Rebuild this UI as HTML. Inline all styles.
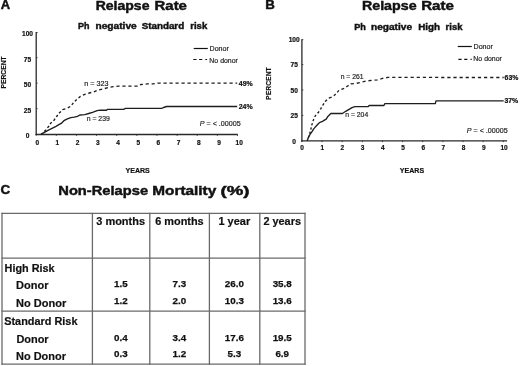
<!DOCTYPE html>
<html><head><meta charset="utf-8"><style>
html,body{margin:0;padding:0;background:#fff;width:520px;height:366px;overflow:hidden}
svg{display:block;will-change:transform}
text{font-family:"Liberation Sans", sans-serif}
</style></head><body>
<svg width="520" height="366" viewBox="0 0 520 366">
<text x="0.79" y="9.3" font-size="13" font-weight="bold" fill="#111" textLength="9.36" lengthAdjust="spacingAndGlyphs" stroke="#111" stroke-width="0.45">A</text>
<text x="265.27" y="9.3" font-size="13" font-weight="bold" fill="#111" textLength="9.60" lengthAdjust="spacingAndGlyphs" stroke="#111" stroke-width="0.45">B</text>
<text x="0.42" y="194.4" font-size="12.8" font-weight="bold" fill="#111" textLength="9.70" lengthAdjust="spacingAndGlyphs" stroke="#111" stroke-width="0.45">C</text>
<text x="95.65" y="9.8" font-size="12.5" font-weight="bold" fill="#111" textLength="53.86" lengthAdjust="spacingAndGlyphs" stroke="#111" stroke-width="0.45">Relapse</text>
<text x="154.50" y="9.8" font-size="12.5" font-weight="bold" fill="#111" textLength="32.45" lengthAdjust="spacingAndGlyphs" stroke="#111" stroke-width="0.45">Rate</text>
<text x="361.95" y="9.8" font-size="12.5" font-weight="bold" fill="#111" textLength="54.63" lengthAdjust="spacingAndGlyphs" stroke="#111" stroke-width="0.45">Relapse</text>
<text x="421.20" y="9.8" font-size="12.5" font-weight="bold" fill="#111" textLength="32.71" lengthAdjust="spacingAndGlyphs" stroke="#111" stroke-width="0.45">Rate</text>
<text x="78.12" y="28.5" font-size="9" font-weight="bold" fill="#111" textLength="11.46" lengthAdjust="spacingAndGlyphs" stroke="#111" stroke-width="0.42">Ph</text>
<text x="95.52" y="28.5" font-size="9" font-weight="bold" fill="#111" textLength="41.20" lengthAdjust="spacingAndGlyphs" stroke="#111" stroke-width="0.42">negative</text>
<text x="141.66" y="28.5" font-size="9" font-weight="bold" fill="#111" textLength="42.54" lengthAdjust="spacingAndGlyphs" stroke="#111" stroke-width="0.42">Standard</text>
<text x="190.20" y="28.5" font-size="9" font-weight="bold" fill="#111" textLength="17.05" lengthAdjust="spacingAndGlyphs" stroke="#111" stroke-width="0.42">risk</text>
<text x="354.29" y="30.1" font-size="9" font-weight="bold" fill="#111" textLength="11.62" lengthAdjust="spacingAndGlyphs" stroke="#111" stroke-width="0.42">Ph</text>
<text x="371.06" y="30.1" font-size="9" font-weight="bold" fill="#111" textLength="40.97" lengthAdjust="spacingAndGlyphs" stroke="#111" stroke-width="0.42">negative</text>
<text x="418.22" y="30.1" font-size="9" font-weight="bold" fill="#111" textLength="21.85" lengthAdjust="spacingAndGlyphs" stroke="#111" stroke-width="0.42">High</text>
<text x="445.60" y="30.1" font-size="9" font-weight="bold" fill="#111" textLength="16.81" lengthAdjust="spacingAndGlyphs" stroke="#111" stroke-width="0.42">risk</text>
<text x="58.31" y="195.1" font-size="13" font-weight="bold" fill="#111" textLength="89.79" lengthAdjust="spacingAndGlyphs" stroke="#111" stroke-width="0.45">Non-Relapse</text>
<text x="152.26" y="195.1" font-size="13" font-weight="bold" fill="#111" textLength="64.04" lengthAdjust="spacingAndGlyphs" stroke="#111" stroke-width="0.45">Mortality</text>
<text x="220.55" y="195.1" font-size="13" font-weight="bold" fill="#111" textLength="29.00" lengthAdjust="spacingAndGlyphs" stroke="#111" stroke-width="0.45">(%)</text>
<text x="209.52" y="50.8" font-size="6.8" fill="#222" textLength="19.33" lengthAdjust="spacingAndGlyphs" stroke="#222" stroke-width="0.18">Donor</text>
<text x="209.33" y="63.0" font-size="6.8" fill="#222" textLength="28.57" lengthAdjust="spacingAndGlyphs" stroke="#222" stroke-width="0.18">No donor</text>
<text x="473.52" y="49.1" font-size="6.8" fill="#222" textLength="19.33" lengthAdjust="spacingAndGlyphs" stroke="#222" stroke-width="0.18">Donor</text>
<text x="473.33" y="61.2" font-size="6.8" fill="#222" textLength="28.57" lengthAdjust="spacingAndGlyphs" stroke="#222" stroke-width="0.18">No donor</text>
<text x="238.82" y="86.2" font-size="6.8" font-weight="bold" fill="#111" textLength="13.83" lengthAdjust="spacingAndGlyphs" stroke="#111" stroke-width="0.2">49%</text>
<text x="238.70" y="109.2" font-size="6.8" font-weight="bold" fill="#111" textLength="13.94" lengthAdjust="spacingAndGlyphs" stroke="#111" stroke-width="0.2">24%</text>
<text x="504.62" y="79.9" font-size="6.8" font-weight="bold" fill="#111" textLength="13.69" lengthAdjust="spacingAndGlyphs" stroke="#111" stroke-width="0.2">63%</text>
<text x="504.47" y="103.4" font-size="6.8" font-weight="bold" fill="#111" textLength="13.72" lengthAdjust="spacingAndGlyphs" stroke="#111" stroke-width="0.2">37%</text>
<text x="84.32" y="86.0" font-size="7.0" fill="#222" textLength="24.25" lengthAdjust="spacingAndGlyphs" stroke="#222" stroke-width="0.18">n = 323</text>
<text x="86.74" y="121.1" font-size="7.0" fill="#222" textLength="23.04" lengthAdjust="spacingAndGlyphs" stroke="#222" stroke-width="0.18">n = 239</text>
<text x="340.64" y="78.8" font-size="7.0" fill="#222" textLength="22.85" lengthAdjust="spacingAndGlyphs" stroke="#222" stroke-width="0.18">n = 261</text>
<text x="345.23" y="117.4" font-size="7.0" fill="#222" textLength="22.97" lengthAdjust="spacingAndGlyphs" stroke="#222" stroke-width="0.18">n = 204</text>
<text x="199.84" y="125.7" font-size="7" fill="#222" textLength="40.78" lengthAdjust="spacingAndGlyphs" stroke="#222" stroke-width="0.18"><tspan font-style="italic">P</tspan> = &lt; .00005</text>
<text x="466.85" y="133.2" font-size="7" fill="#222" textLength="40.74" lengthAdjust="spacingAndGlyphs" stroke="#222" stroke-width="0.18"><tspan font-style="italic">P</tspan> = &lt; .00005</text>
<text x="125.47" y="172.5" font-size="7.5" font-weight="bold" fill="#111" textLength="24.35" lengthAdjust="spacingAndGlyphs" stroke="#111" stroke-width="0.2">YEARS</text>
<text x="399.86" y="172.5" font-size="7.5" font-weight="bold" fill="#111" textLength="24.24" lengthAdjust="spacingAndGlyphs" stroke="#111" stroke-width="0.2">YEARS</text>
<text x="96.26" y="225.1" font-size="10.8" font-weight="bold" fill="#111" textLength="48.74" lengthAdjust="spacingAndGlyphs" stroke="#111" stroke-width="0.2">3 months</text>
<text x="155.25" y="225.1" font-size="10.8" font-weight="bold" fill="#111" textLength="48.41" lengthAdjust="spacingAndGlyphs" stroke="#111" stroke-width="0.2">6 months</text>
<text x="218.48" y="225.1" font-size="10.8" font-weight="bold" fill="#111" textLength="31.75" lengthAdjust="spacingAndGlyphs" stroke="#111" stroke-width="0.2">1 year</text>
<text x="263.40" y="225.1" font-size="10.8" font-weight="bold" fill="#111" textLength="37.57" lengthAdjust="spacingAndGlyphs" stroke="#111" stroke-width="0.2">2 years</text>
<text x="4.63" y="271.5" font-size="10.8" font-weight="bold" fill="#111" textLength="50.03" lengthAdjust="spacingAndGlyphs" stroke="#111" stroke-width="0.2">High Risk</text>
<text x="16.07" y="289.2" font-size="10.8" font-weight="bold" fill="#111" textLength="32.40" lengthAdjust="spacingAndGlyphs" stroke="#111" stroke-width="0.2">Donor</text>
<text x="16.12" y="306.9" font-size="10.8" font-weight="bold" fill="#111" textLength="50.13" lengthAdjust="spacingAndGlyphs" stroke="#111" stroke-width="0.2">No Donor</text>
<text x="4.23" y="324.6" font-size="10.8" font-weight="bold" fill="#111" textLength="73.23" lengthAdjust="spacingAndGlyphs" stroke="#111" stroke-width="0.2">Standard Risk</text>
<text x="16.41" y="342.5" font-size="10.8" font-weight="bold" fill="#111" textLength="32.23" lengthAdjust="spacingAndGlyphs" stroke="#111" stroke-width="0.2">Donor</text>
<text x="16.08" y="360.0" font-size="10.8" font-weight="bold" fill="#111" textLength="49.88" lengthAdjust="spacingAndGlyphs" stroke="#111" stroke-width="0.2">No Donor</text>
<line x1="36.2" y1="32.0" x2="36.2" y2="135.1" stroke="#2a2a2a" stroke-width="1.3"/>
<line x1="35.6" y1="134.5" x2="237.8" y2="134.5" stroke="#2a2a2a" stroke-width="1.3"/>
<line x1="36.2" y1="32.5" x2="37.6" y2="32.5" stroke="#2a2a2a" stroke-width="0.9"/>
<line x1="36.2" y1="57.7" x2="37.6" y2="57.7" stroke="#2a2a2a" stroke-width="0.9"/>
<line x1="36.2" y1="83.1" x2="37.6" y2="83.1" stroke="#2a2a2a" stroke-width="0.9"/>
<line x1="36.2" y1="108.7" x2="37.6" y2="108.7" stroke="#2a2a2a" stroke-width="0.9"/>
<line x1="36.20" y1="134.5" x2="36.20" y2="135.8" stroke="#2a2a2a" stroke-width="0.9"/>
<line x1="56.33" y1="134.5" x2="56.33" y2="135.8" stroke="#2a2a2a" stroke-width="0.9"/>
<line x1="76.46" y1="134.5" x2="76.46" y2="135.8" stroke="#2a2a2a" stroke-width="0.9"/>
<line x1="96.59" y1="134.5" x2="96.59" y2="135.8" stroke="#2a2a2a" stroke-width="0.9"/>
<line x1="116.72" y1="134.5" x2="116.72" y2="135.8" stroke="#2a2a2a" stroke-width="0.9"/>
<line x1="136.85" y1="134.5" x2="136.85" y2="135.8" stroke="#2a2a2a" stroke-width="0.9"/>
<line x1="156.98" y1="134.5" x2="156.98" y2="135.8" stroke="#2a2a2a" stroke-width="0.9"/>
<line x1="177.11" y1="134.5" x2="177.11" y2="135.8" stroke="#2a2a2a" stroke-width="0.9"/>
<line x1="197.24" y1="134.5" x2="197.24" y2="135.8" stroke="#2a2a2a" stroke-width="0.9"/>
<line x1="217.37" y1="134.5" x2="217.37" y2="135.8" stroke="#2a2a2a" stroke-width="0.9"/>
<line x1="237.50" y1="134.5" x2="237.50" y2="135.8" stroke="#2a2a2a" stroke-width="0.9"/>
<line x1="301.9" y1="39.2" x2="301.9" y2="141.4" stroke="#2a2a2a" stroke-width="1.3"/>
<line x1="301.29999999999995" y1="140.8" x2="507.1" y2="140.8" stroke="#2a2a2a" stroke-width="1.3"/>
<line x1="301.9" y1="39.7" x2="303.29999999999995" y2="39.7" stroke="#2a2a2a" stroke-width="0.9"/>
<line x1="301.9" y1="64.6" x2="303.29999999999995" y2="64.6" stroke="#2a2a2a" stroke-width="0.9"/>
<line x1="301.9" y1="90.0" x2="303.29999999999995" y2="90.0" stroke="#2a2a2a" stroke-width="0.9"/>
<line x1="301.9" y1="115.4" x2="303.29999999999995" y2="115.4" stroke="#2a2a2a" stroke-width="0.9"/>
<line x1="301.90" y1="140.8" x2="301.90" y2="142.10000000000002" stroke="#2a2a2a" stroke-width="0.9"/>
<line x1="322.04" y1="140.8" x2="322.04" y2="142.10000000000002" stroke="#2a2a2a" stroke-width="0.9"/>
<line x1="342.18" y1="140.8" x2="342.18" y2="142.10000000000002" stroke="#2a2a2a" stroke-width="0.9"/>
<line x1="362.32" y1="140.8" x2="362.32" y2="142.10000000000002" stroke="#2a2a2a" stroke-width="0.9"/>
<line x1="382.46" y1="140.8" x2="382.46" y2="142.10000000000002" stroke="#2a2a2a" stroke-width="0.9"/>
<line x1="402.60" y1="140.8" x2="402.60" y2="142.10000000000002" stroke="#2a2a2a" stroke-width="0.9"/>
<line x1="422.74" y1="140.8" x2="422.74" y2="142.10000000000002" stroke="#2a2a2a" stroke-width="0.9"/>
<line x1="442.88" y1="140.8" x2="442.88" y2="142.10000000000002" stroke="#2a2a2a" stroke-width="0.9"/>
<line x1="463.02" y1="140.8" x2="463.02" y2="142.10000000000002" stroke="#2a2a2a" stroke-width="0.9"/>
<line x1="483.16" y1="140.8" x2="483.16" y2="142.10000000000002" stroke="#2a2a2a" stroke-width="0.9"/>
<line x1="503.30" y1="140.8" x2="503.30" y2="142.10000000000002" stroke="#2a2a2a" stroke-width="0.9"/>
<text x="27.5" y="36.45" font-size="6.6" font-weight="bold" text-anchor="middle" fill="#111" stroke="#111" stroke-width="0.2">100</text>
<text x="27.5" y="61.65" font-size="6.6" font-weight="bold" text-anchor="middle" fill="#111" stroke="#111" stroke-width="0.2">75</text>
<text x="27.5" y="87.25" font-size="6.6" font-weight="bold" text-anchor="middle" fill="#111" stroke="#111" stroke-width="0.2">50</text>
<text x="27.5" y="112.75" font-size="6.6" font-weight="bold" text-anchor="middle" fill="#111" stroke="#111" stroke-width="0.2">25</text>
<text x="27.5" y="138.35" font-size="6.6" font-weight="bold" text-anchor="middle" fill="#111" stroke="#111" stroke-width="0.2">0</text>
<text x="294.2" y="41.55" font-size="6.6" font-weight="bold" text-anchor="middle" fill="#111" stroke="#111" stroke-width="0.2">100</text>
<text x="294.2" y="67.10" font-size="6.6" font-weight="bold" text-anchor="middle" fill="#111" stroke="#111" stroke-width="0.2">75</text>
<text x="294.2" y="92.95" font-size="6.6" font-weight="bold" text-anchor="middle" fill="#111" stroke="#111" stroke-width="0.2">50</text>
<text x="294.2" y="118.15" font-size="6.6" font-weight="bold" text-anchor="middle" fill="#111" stroke="#111" stroke-width="0.2">25</text>
<text x="294.2" y="143.95" font-size="6.6" font-weight="bold" text-anchor="middle" fill="#111" stroke="#111" stroke-width="0.2">0</text>
<text x="37.20" y="145.1" font-size="6.5" font-weight="bold" text-anchor="middle" fill="#111" stroke="#111" stroke-width="0.2">0</text>
<text x="302.00" y="149.5" font-size="6.5" font-weight="bold" text-anchor="middle" fill="#111" stroke="#111" stroke-width="0.2">0</text>
<text x="57.40" y="145.1" font-size="6.5" font-weight="bold" text-anchor="middle" fill="#111" stroke="#111" stroke-width="0.2">1</text>
<text x="322.20" y="149.5" font-size="6.5" font-weight="bold" text-anchor="middle" fill="#111" stroke="#111" stroke-width="0.2">1</text>
<text x="77.60" y="145.1" font-size="6.5" font-weight="bold" text-anchor="middle" fill="#111" stroke="#111" stroke-width="0.2">2</text>
<text x="342.40" y="149.5" font-size="6.5" font-weight="bold" text-anchor="middle" fill="#111" stroke="#111" stroke-width="0.2">2</text>
<text x="97.80" y="145.1" font-size="6.5" font-weight="bold" text-anchor="middle" fill="#111" stroke="#111" stroke-width="0.2">3</text>
<text x="362.60" y="149.5" font-size="6.5" font-weight="bold" text-anchor="middle" fill="#111" stroke="#111" stroke-width="0.2">3</text>
<text x="118.00" y="145.1" font-size="6.5" font-weight="bold" text-anchor="middle" fill="#111" stroke="#111" stroke-width="0.2">4</text>
<text x="382.80" y="149.5" font-size="6.5" font-weight="bold" text-anchor="middle" fill="#111" stroke="#111" stroke-width="0.2">4</text>
<text x="138.20" y="145.1" font-size="6.5" font-weight="bold" text-anchor="middle" fill="#111" stroke="#111" stroke-width="0.2">5</text>
<text x="403.00" y="149.5" font-size="6.5" font-weight="bold" text-anchor="middle" fill="#111" stroke="#111" stroke-width="0.2">5</text>
<text x="158.40" y="145.1" font-size="6.5" font-weight="bold" text-anchor="middle" fill="#111" stroke="#111" stroke-width="0.2">6</text>
<text x="423.20" y="149.5" font-size="6.5" font-weight="bold" text-anchor="middle" fill="#111" stroke="#111" stroke-width="0.2">6</text>
<text x="178.60" y="145.1" font-size="6.5" font-weight="bold" text-anchor="middle" fill="#111" stroke="#111" stroke-width="0.2">7</text>
<text x="443.40" y="149.5" font-size="6.5" font-weight="bold" text-anchor="middle" fill="#111" stroke="#111" stroke-width="0.2">7</text>
<text x="198.80" y="145.1" font-size="6.5" font-weight="bold" text-anchor="middle" fill="#111" stroke="#111" stroke-width="0.2">8</text>
<text x="463.60" y="149.5" font-size="6.5" font-weight="bold" text-anchor="middle" fill="#111" stroke="#111" stroke-width="0.2">8</text>
<text x="219.00" y="145.1" font-size="6.5" font-weight="bold" text-anchor="middle" fill="#111" stroke="#111" stroke-width="0.2">9</text>
<text x="483.80" y="149.5" font-size="6.5" font-weight="bold" text-anchor="middle" fill="#111" stroke="#111" stroke-width="0.2">9</text>
<text x="239.20" y="145.1" font-size="6.5" font-weight="bold" text-anchor="middle" fill="#111" stroke="#111" stroke-width="0.2">10</text>
<text x="504.00" y="149.5" font-size="6.5" font-weight="bold" text-anchor="middle" fill="#111" stroke="#111" stroke-width="0.2">10</text>
<text font-size="6.6" font-weight="bold" fill="#111" stroke="#111" stroke-width="0.15" transform="translate(6.0,88.5) rotate(-90)" textLength="32.1" lengthAdjust="spacingAndGlyphs">PERCENT</text>
<text font-size="6.6" font-weight="bold" fill="#111" stroke="#111" stroke-width="0.15" transform="translate(271.2,99.9) rotate(-90)" textLength="32.7" lengthAdjust="spacingAndGlyphs">PERCENT</text>
<polyline points="41.00,134.40 44.00,132.60 47.00,130.80 50.00,129.30 53.00,127.80 56.00,126.30 58.00,125.20 61.20,123.40 63.90,120.70 67.40,118.90 70.80,117.60 74.30,117.10 77.40,116.30 79.90,115.00 84.80,114.60 88.80,113.50 93.20,112.20 97.10,110.70 100.20,110.20 106.50,110.20 107.50,109.30 123.60,109.30 125.40,108.40 161.60,108.40 163.60,107.50 166.50,106.50 237.20,106.50" fill="none" stroke="#1e1e1e" stroke-width="1.35" stroke-linejoin="round"/>
<path d="M41.00,134.40 L42.64,133.03 M44.30,131.46 L45.80,129.90 L46.06,129.59 M47.47,127.90 L48.80,126.30 L49.03,125.94 M50.17,124.15 L50.90,123.00 L51.75,122.22 M53.46,120.67 L54.20,120.00 L55.06,118.74 M56.27,116.98 L56.60,116.50 L57.78,115.00 M59.12,113.28 L59.50,112.80 L60.88,111.42 M62.49,109.81 L62.60,109.70 L65.36,108.86 M67.78,107.91 L70.27,106.50 M71.81,104.90 L73.33,102.93 M74.90,101.30 L76.50,99.70 L76.76,99.48 M78.54,97.97 L80.40,96.40 L80.63,96.29 M82.95,95.18 L84.80,94.30 L85.69,94.04 M88.27,93.30 L89.30,93.00 L91.27,92.51 M93.89,91.82 L96.65,90.69 M99.12,89.79 L102.20,89.16 M104.84,88.51 L107.83,87.72 M110.53,87.21 L113.30,86.70 L113.63,86.66 M116.40,86.36 L118.70,86.10 L119.57,86.10 M122.37,86.10 L125.57,86.10 M128.37,86.10 L131.57,86.10 M134.37,86.10 L137.50,86.10 L137.56,86.07 M139.90,85.00 L141.00,84.50 L142.87,84.32 M145.65,84.06 L147.40,83.90 L148.83,83.90 M151.63,83.90 L153.30,83.90 L154.79,83.66 M157.52,83.21 L158.20,83.10 L160.70,83.10 M163.50,83.10 L166.70,83.10 M169.50,83.10 L172.70,83.10 M175.50,83.10 L178.70,83.10 M181.50,83.10 L184.70,83.10 M187.50,83.10 L190.70,83.10 M193.50,83.10 L196.70,83.10 M199.50,83.10 L202.70,83.10 M205.50,83.10 L208.70,83.10 M211.50,83.10 L214.70,83.10 M217.50,83.10 L220.70,83.10 M223.50,83.10 L226.70,83.10 M229.50,83.10 L232.70,83.10 M235.50,83.10 L237.20,83.10" fill="none" stroke="#1e1e1e" stroke-width="1.35"/>
<polyline points="307.20,140.70 308.80,136.60 310.60,133.50 312.40,131.10 313.50,129.10 315.00,127.40 316.50,125.70 318.30,123.70 319.80,122.40 322.00,121.70 324.00,120.40 326.20,119.10 327.60,116.80 330.90,113.50 342.40,113.50 345.70,111.30 349.50,109.10 352.00,107.60 354.90,106.70 368.20,106.50 369.20,105.50 383.90,105.50 384.90,103.60 435.30,103.60 436.00,100.90 503.70,100.90" fill="none" stroke="#1e1e1e" stroke-width="1.35" stroke-linejoin="round"/>
<path d="M307.20,140.70 L307.50,139.93 M308.26,137.96 L308.40,137.60 L308.99,135.78 M309.64,133.79 L309.70,133.60 L310.25,131.59 M310.80,129.58 L311.29,127.37 M311.74,125.35 L311.90,124.60 L312.37,123.15 M313.02,121.16 L313.50,119.70 L313.83,119.00 M314.72,117.05 L315.30,115.80 L316.01,115.02 M317.58,113.29 L318.30,112.50 L319.08,111.32 M320.32,109.47 L320.70,108.90 L321.56,107.41 M322.66,105.51 L322.90,105.10 L323.97,103.47 M325.19,101.61 L325.40,101.30 L327.02,99.78 M328.79,98.17 L331.63,97.13 M333.83,95.87 L335.66,94.04 M337.25,92.33 L338.91,90.41 M341.38,89.37 L343.50,88.60 L344.10,88.22 M346.27,86.85 L347.30,86.20 L348.62,85.33 M350.75,83.94 L350.80,83.90 L353.89,83.57 M356.76,83.22 L359.81,82.54 M362.59,81.91 L365.61,81.17 M368.45,80.74 L371.62,80.44 M374.52,80.18 L377.50,79.90 L377.67,79.85 M380.35,79.03 L382.40,78.40 L383.33,78.23 M386.16,77.72 L387.90,77.40 L389.30,77.40 M392.22,77.40 L395.42,77.41 M398.34,77.41 L401.54,77.41 M404.46,77.41 L407.66,77.42 M410.58,77.42 L413.78,77.42 M416.70,77.42 L419.90,77.43 M422.82,77.43 L426.02,77.43 M428.94,77.44 L432.14,77.44 M435.06,77.44 L438.26,77.44 M441.18,77.45 L444.38,77.45 M447.30,77.45 L450.50,77.45 M453.42,77.46 L456.62,77.46 M459.54,77.46 L462.74,77.46 M465.66,77.47 L468.86,77.47 M471.78,77.47 L474.98,77.48 M477.90,77.48 L481.10,77.48 M484.02,77.48 L487.22,77.49 M490.14,77.49 L493.34,77.49 M496.26,77.49 L499.46,77.50 M502.38,77.50 L503.70,77.50" fill="none" stroke="#1e1e1e" stroke-width="1.35"/>
<line x1="193.7" y1="48.5" x2="207.8" y2="48.5" stroke="#111" stroke-width="1.2"/>
<path d="M193.3,59.5 L196.5,59.5 M199.1,59.5 L202.3,59.5 M205.3,59.5 L207.1,59.5" stroke="#111" stroke-width="1.2" fill="none"/>
<line x1="457.8" y1="46.5" x2="471.8" y2="46.5" stroke="#111" stroke-width="1.2"/>
<path d="M458.4,59.4 L461.6,59.4 M464.2,59.4 L467.4,59.4 M470.5,59.4 L471.7,59.4" stroke="#111" stroke-width="1.2" fill="none"/>
<line x1="2.0" y1="212.8" x2="2.0" y2="364.70000000000005" stroke="#6a6a6a" stroke-width="1.3"/>
<line x1="92.4" y1="212.8" x2="92.4" y2="364.70000000000005" stroke="#6a6a6a" stroke-width="1.3"/>
<line x1="149.8" y1="212.8" x2="149.8" y2="364.70000000000005" stroke="#6a6a6a" stroke-width="1.3"/>
<line x1="209.4" y1="212.8" x2="209.4" y2="364.70000000000005" stroke="#6a6a6a" stroke-width="1.3"/>
<line x1="259.8" y1="212.8" x2="259.8" y2="364.70000000000005" stroke="#6a6a6a" stroke-width="1.3"/>
<line x1="305.0" y1="212.8" x2="305.0" y2="364.70000000000005" stroke="#6a6a6a" stroke-width="1.3"/>
<line x1="1.4" y1="213.4" x2="305.6" y2="213.4" stroke="#6a6a6a" stroke-width="1.3"/>
<line x1="1.4" y1="258.1" x2="305.6" y2="258.1" stroke="#6a6a6a" stroke-width="1.3"/>
<line x1="1.4" y1="311.2" x2="305.6" y2="311.2" stroke="#6a6a6a" stroke-width="1.3"/>
<line x1="1.4" y1="364.1" x2="305.6" y2="364.1" stroke="#6a6a6a" stroke-width="1.3"/>
<text x="120.90" y="287.4" font-size="9.8" font-weight="bold" text-anchor="middle" fill="#111" stroke="#111" stroke-width="0.25">1.5</text>
<text x="179.40" y="287.4" font-size="9.8" font-weight="bold" text-anchor="middle" fill="#111" stroke="#111" stroke-width="0.25">7.3</text>
<text x="234.40" y="287.4" font-size="9.8" font-weight="bold" text-anchor="middle" fill="#111" stroke="#111" stroke-width="0.25">26.0</text>
<text x="282.20" y="287.4" font-size="9.8" font-weight="bold" text-anchor="middle" fill="#111" stroke="#111" stroke-width="0.25">35.8</text>
<text x="120.90" y="303.8" font-size="9.8" font-weight="bold" text-anchor="middle" fill="#111" stroke="#111" stroke-width="0.25">1.2</text>
<text x="179.40" y="303.8" font-size="9.8" font-weight="bold" text-anchor="middle" fill="#111" stroke="#111" stroke-width="0.25">2.0</text>
<text x="234.40" y="303.8" font-size="9.8" font-weight="bold" text-anchor="middle" fill="#111" stroke="#111" stroke-width="0.25">10.3</text>
<text x="282.20" y="303.8" font-size="9.8" font-weight="bold" text-anchor="middle" fill="#111" stroke="#111" stroke-width="0.25">13.6</text>
<text x="120.90" y="340.9" font-size="9.8" font-weight="bold" text-anchor="middle" fill="#111" stroke="#111" stroke-width="0.25">0.4</text>
<text x="179.40" y="340.9" font-size="9.8" font-weight="bold" text-anchor="middle" fill="#111" stroke="#111" stroke-width="0.25">3.4</text>
<text x="234.40" y="340.9" font-size="9.8" font-weight="bold" text-anchor="middle" fill="#111" stroke="#111" stroke-width="0.25">17.6</text>
<text x="282.20" y="340.9" font-size="9.8" font-weight="bold" text-anchor="middle" fill="#111" stroke="#111" stroke-width="0.25">19.5</text>
<text x="120.90" y="357.1" font-size="9.8" font-weight="bold" text-anchor="middle" fill="#111" stroke="#111" stroke-width="0.25">0.3</text>
<text x="179.40" y="357.1" font-size="9.8" font-weight="bold" text-anchor="middle" fill="#111" stroke="#111" stroke-width="0.25">1.2</text>
<text x="234.40" y="357.1" font-size="9.8" font-weight="bold" text-anchor="middle" fill="#111" stroke="#111" stroke-width="0.25">5.3</text>
<text x="282.20" y="357.1" font-size="9.8" font-weight="bold" text-anchor="middle" fill="#111" stroke="#111" stroke-width="0.25">6.9</text>
</svg></body></html>
